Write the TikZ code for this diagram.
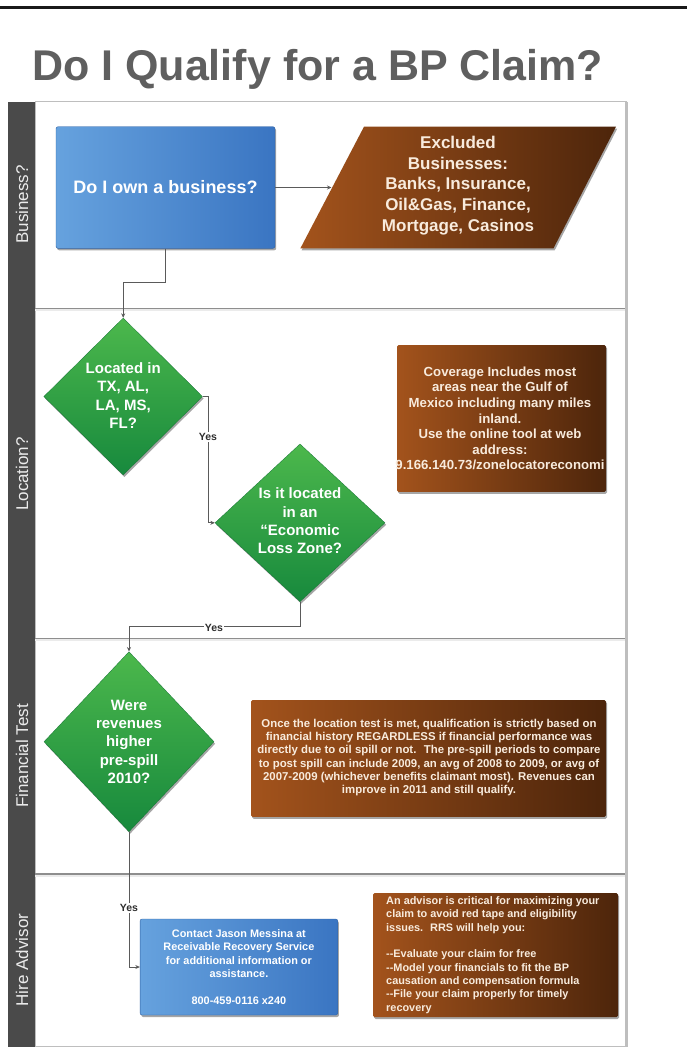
\documentclass[tikz,border=0pt]{standalone}
\usepackage{fontspec}
\setmainfont{Liberation Sans}
\usetikzlibrary{shapes.geometric,shadows,arrows.meta}
\definecolor{titlegray}{HTML}{5F5F5F}
\definecolor{sidebar}{HTML}{4A4A4A}
\definecolor{blueL}{HTML}{66A2DE}
\definecolor{blueD}{HTML}{3A75C2}
\definecolor{greenL}{HTML}{4CB84C}
\definecolor{greenD}{HTML}{17893D}
\definecolor{brownL}{HTML}{A3531C}
\definecolor{brownD}{HTML}{4D250B}
\definecolor{lanegray}{HTML}{8E8E8E}
\definecolor{framegray}{HTML}{BEBEBE}
\definecolor{conngray}{HTML}{5A5A5A}
\definecolor{yesgray}{HTML}{2E2E2E}
\definecolor{cream}{HTML}{F8EBDD}
\begin{document}
\begin{tikzpicture}[x=1pt,y=-1pt,
  every node/.style={inner sep=0pt},
  shad/.style={drop shadow={shadow xshift=1.2pt,shadow yshift=-2pt,opacity=0.35,fill=black}},
  bluebox/.style={shad, rectangle, rounded corners=2pt, left color=blueL, right color=blueD, draw=blueD!85!black, line width=0.4pt},
  brownbox/.style={shad, rectangle, rounded corners=1.5pt, left color=brownL, right color=brownD},
  dia/.style={shad, diamond, top color=greenL, bottom color=greenD, draw=greenD!85!black, line width=0.3pt},
  diatext/.style={text=white, font=\fontsize{15}{18.3}\selectfont\bfseries, align=center},
  conn/.style={draw=conngray, line width=0.8pt, -{Stealth[length=4.5pt,width=4pt]}},
  yes/.style={fill=white, text=yesgray, font=\fontsize{10.5}{12}\selectfont\bfseries, inner sep=1pt},
  lanelabel/.style={rotate=90, text=white!92!black, font=\fontsize{17}{20}\selectfont},
  laneline/.style={draw=lanegray, line width=1.1pt},
  laneshadow/.style={draw=black!8, line width=2pt}
]
\useasboundingbox (0,0) rectangle (687,1049);
\fill[white] (0,0) rectangle (687,1049);
% top rule
\draw[line width=3pt, black!90] (0,7.5) -- (687,7.5);
% title
\node[anchor=base west, text=titlegray, font=\fontsize{43}{50}\selectfont\bfseries] (title) at (32,81) {Do I Qualify for a BP Claim?};
% frame
\draw[framegray, line width=1pt] (35,101.5) rectangle (626,1046.5);
\draw[framegray, line width=2.5pt] (626.5,101.5) -- (626.5,1047);
\fill[sidebar] (8,101.5) rectangle (35,1047);
% lane lines
\foreach \yy in {308.3,638.3,874} {
  \draw[laneshadow] (35,\yy+2) -- (625,\yy+2);
  \draw[laneline] (35,\yy) -- (625,\yy);
}
% lane labels
\node[lanelabel] (lane1) at (22,204.5) {Business?};
\node[lanelabel] (lane2) at (22,474) {Location?};
\node[lanelabel] (lane3) at (22,756) {Financial Test};
\node[lanelabel] (lane4) at (22,960) {Hire Advisor};

% Business lane
\node[bluebox, minimum width=219pt, minimum height=121.6pt, text=white, font=\fontsize{18}{21}\selectfont\bfseries] (b1) at (165.5,187.5) {Do I own a business?};
\path[shad, left color=brownL, right color=brownD] (364,126.7) -- (616,126.7) -- (553.5,248.3) -- (300.4,248.3) -- cycle;
\node[text=cream, font=\fontsize{17}{20.6}\selectfont\bfseries, align=center] (excl) at (458,185.5) {Excluded\\Businesses:\\Banks, Insurance,\\Oil\&Gas, Finance,\\Mortgage, Casinos};
\coordinate (exclIn) at (331.5,187.5);
\draw[conn] (b1.east) -- (exclIn);

% Location lane
\node[dia, minimum width=158.7pt, minimum height=157pt] (d1) at (123.2,396.5) {};
\node[diatext] (d1t) at (123.2,395.5) {Located in\\TX, AL,\\LA, MS,\\FL?};
\node[dia, minimum width=170pt, minimum height=157.7pt] (d2) at (300,522.8) {};
\node[diatext] (d2t) at (300,520.8) {Is it located\\in an\\``Economic\\Loss Zone?};
\node[brownbox, minimum width=209pt, minimum height=146.7pt] (cov) at (501.5,418.4) {};
\node[text=cream, font=\fontsize{13.2}{15.6}\selectfont\bfseries, align=center] (covt) at (500,418.5) {Coverage Includes most\\areas near the Gulf of\\Mexico including many miles\\inland.\\Use the online tool at web\\address:\\9.166.140.73/zonelocatoreconomi};

% Financial lane
\node[dia, minimum width=170pt, minimum height=180pt] (d3) at (129,741.7) {};
\node[diatext] (d3t) at (129,741.7) {Were\\revenues\\higher\\pre-spill\\2010?};
\node[brownbox, minimum width=355pt, minimum height=116.7pt] (fin) at (428.5,758.4) {};
\node[text=cream, font=\fontsize{11.4}{13.3}\selectfont\bfseries, align=center] (fint) at (429,757.5) {Once the location test is met, qualification is strictly based on\\financial history REGARDLESS if financial performance was\\directly due to oil spill or not.~ The pre-spill periods to compare\\to post spill can include 2009, an avg of 2008 to 2009, or avg of\\2007-2009 (whichever benefits claimant most). Revenues can\\improve in 2011 and still qualify.};

% Hire advisor lane
\node[bluebox, minimum width=197.7pt, minimum height=96pt, text=white, font=\fontsize{10.9}{13.5}\selectfont\bfseries, align=center] (b2) at (238.9,967) {Contact Jason Messina at\\Receivable Recovery Service\\for additional information or\\assistance.\\\mbox{}\\800-459-0116 x240};
\node[brownbox, minimum width=245pt, minimum height=124pt] (adv) at (495.5,955) {};
\node[anchor=west, text=cream, font=\fontsize{10.9}{13.3}\selectfont\bfseries, align=left] (advt) at (386,955) {An advisor is critical for maximizing your\\claim to avoid red tape and eligibility\\issues.~ RRS will help you:\\\mbox{}\\-{}-Evaluate your claim for free\\-{}-Model your financials to fit the BP\\causation and compensation formula\\-{}-File your claim properly for timely\\recovery};

% connectors
\draw[conn] (b1.south) -- ++(0,33.4) -| (d1.north);
\draw[conn] (d1.east) -- ++(5.6,0) |- (d2.west);
\draw[conn] (d2.south) -- ++(0,25) -| (d3.north);
\draw[conn] (d3.south) |- (b2.west);
\node[yes] (yes1) at (208,437) {Yes};
\node[yes] (yes2) at (214,627.5) {Yes};
\node[yes] (yes3) at (129,908) {Yes};
\end{tikzpicture}
\end{document}
